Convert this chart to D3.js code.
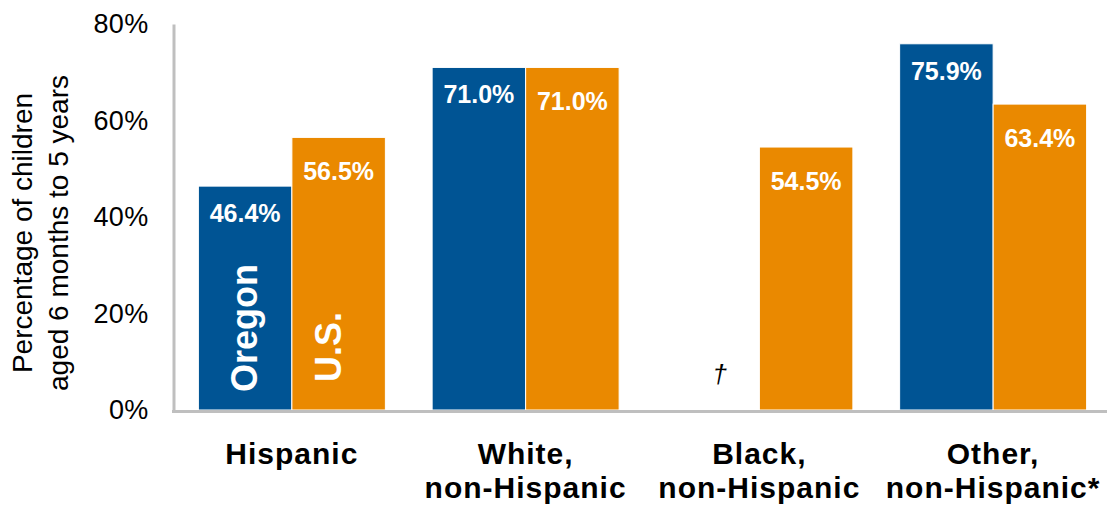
<!DOCTYPE html>
<html>
<head>
<meta charset="utf-8">
<script src="https://cdn.jsdelivr.net/npm/d3@7"></script>
<style>
  body { margin: 0; background: #fff; }
  text { font-family: Arial, "Liberation Sans", sans-serif; }
</style>
</head>
<body>
<div id="chart"></div>
<script>
//============== data ===============//
const categories = ["Hispanic", "White, non-Hispanic", "Black, non-Hispanic", "Other, non-Hispanic*"]
const categoryLines = [["Hispanic"], ["White,", "non-Hispanic"], ["Black,", "non-Hispanic"], ["Other,", "non-Hispanic*"]]
const seriesNames = ["Oregon", "U.S."]
const oregon = [46.4, 71.0, null, 75.9]   // null = suppressed (†)
const us = [56.5, 71.0, 54.5, 63.4]
const yTicks = [0, 20, 40, 60, 80]

//============== env ===============//
const width = 1107, height = 508
const margin = {top: 24, right: -3, bottom: 98, left: 175}
const colors = {"Oregon": "#005494", "U.S.": "#EA8900"}
const labelOffset = {"Oregon": 36, "U.S.": 43}

const svg = d3.select("#chart")
  .append("svg")
    .attr("width", width)
    .attr("height", height)

// reshape: one row per category
const rows = categories.map((c, i) => ({
  cat: c,
  values: [{name: "Oregon", value: oregon[i]}, {name: "U.S.", value: us[i]}]
}))

const x0 = d3.scaleBand()
  .domain(categories)
  .range([margin.left, width - margin.right])
  .paddingInner(0.2)
  .paddingOuter(0.1)

const x1 = d3.scaleBand()
  .domain(seriesNames)
  .range([0, x0.bandwidth()])

const y = d3.scaleLinear()
  .domain([0, 80])
  .range([height - margin.bottom, margin.top])

// bars
const groups = svg.selectAll("g.grp")
  .data(rows)
  .join("g")
    .attr("class", "grp")
    .attr("transform", d => `translate(${x0(d.cat)},0)`)

groups.selectAll("rect")
  .data(d => d.values.filter(v => v.value != null))
  .join("rect")
    .attr("x", d => x1(d.name))
    .attr("y", d => y(d.value))
    .attr("width", x1.bandwidth())
    .attr("height", d => y(0) - y(d.value))
    .attr("fill", d => colors[d.name])
    .attr("stroke", "#fff")
    .attr("stroke-width", 1)

// value labels
groups.selectAll("text.val")
  .data(d => d.values.filter(v => v.value != null))
  .join("text")
    .attr("class", "val")
    .attr("x", d => x1(d.name) + x1.bandwidth() / 2)
    .attr("y", d => y(d.value) + labelOffset[d.name])
    .attr("text-anchor", "middle")
    .attr("fill", "#fff")
    .style("font-weight", "bold")
    .style("font-size", "25px")
    .text(d => d.value.toFixed(1) + "%")

// dagger where Oregon is suppressed
groups.selectAll("text.dag")
  .data(d => d.values.filter(v => v.value == null))
  .join("text")
    .attr("class", "dag")
    .attr("x", d => x1(d.name) + x1.bandwidth() / 2 + 7)
    .attr("y", y(0) - 27)
    .attr("text-anchor", "middle")
    .style("font-style", "italic")
    .style("font-size", "26px")
    .text("\u2020")

// series names inside the first group's bars
const first = rows[0]
svg.selectAll("text.series")
  .data(first.values)
  .join("text")
    .attr("class", "series")
    .attr("transform", (d, i) => `translate(${x0(first.cat) + x1(d.name) + (i == 0 ? 59 : 49)},${y(0) - (i == 0 ? 18 : 28)}) rotate(-90)`)
    .attr("fill", "#fff")
    .style("font-weight", "bold")
    .style("font-size", "36px")
    .text(d => d.name)

// y axis
const yAxis = svg.append("g")
  .attr("transform", `translate(${margin.left - 1.5},0)`)
  .call(d3.axisLeft(y).tickValues(yTicks).tickFormat(d => d + "%").tickSize(0).tickPadding(25))
yAxis.select(".domain").attr("stroke", "#BFBFBF").attr("stroke-width", 3)
yAxis.selectAll("text")
  .attr("fill", "#000")
  .style("font-size", "27px")
  .style("font-family", "Arial, 'Liberation Sans', sans-serif")
  .style("letter-spacing", "0.3px")

// x axis
const xAxis = svg.append("g")
  .attr("transform", `translate(0,${y(0) + 1.5})`)
  .call(d3.axisBottom(x0).tickSize(0).tickFormat(""))
xAxis.select(".domain").attr("stroke", "#BFBFBF").attr("stroke-width", 3)
  .attr("d", `M${margin.left - 3},0H${width}`)

// category labels
svg.selectAll("text.cat")
  .data(rows)
  .join("text")
    .attr("class", "cat")
    .attr("x", d => x0(d.cat) + x0.bandwidth() / 2)
    .attr("y", 464)
    .attr("text-anchor", "middle")
    .attr("fill", "#000")
    .style("font-weight", "bold")
    .style("font-size", "30px")
    .style("letter-spacing", "1px")
  .selectAll("tspan")
  .data((d, i) => categoryLines[i])
  .join("tspan")
    .attr("x", function() { return d3.select(this.parentNode).attr("x") })
    .attr("dy", (d, i) => i == 0 ? 0 : 34)
    .text(d => d)

// y axis title
svg.selectAll("text.ytitle")
  .data(["Percentage of children", "aged 6 months to 5 years"])
  .join("text")
    .attr("class", "ytitle")
    .attr("transform", (d, i) => `translate(${32 + i * 36},233) rotate(-90)`)
    .attr("text-anchor", "middle")
    .attr("fill", "#000")
    .style("font-size", "28px")
    .text(d => d)
</script>
</body>
</html>
